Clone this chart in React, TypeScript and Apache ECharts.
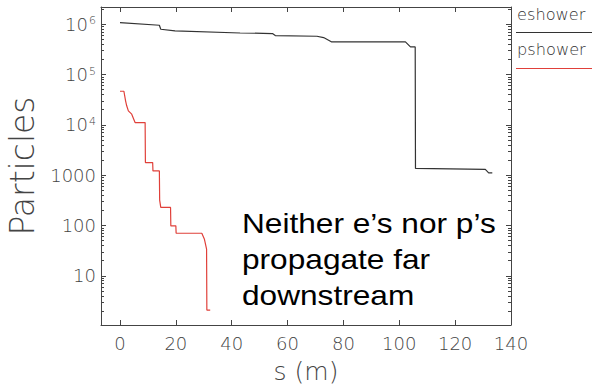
import React, { useEffect, useRef } from "react";
import * as echarts from "echarts";

// Shower particle counts along the beamline (s in metres)
const eShowerS = [0, 14.1, 14.6, 19.7, 43, 54.6, 55.6, 70.5, 72.9, 74.7, 75.8, 89.6, 102.2, 104, 105.7, 105.8, 130.8, 132, 133.3];
const eShowerN = [1.08e6, 9.55e5, 7.95e5, 7.36e5, 6.7e5, 6.53e5, 5.96e5, 5.77e5, 5.43e5, 4.81e5, 4.45e5, 4.45e5, 4.45e5, 3.54e5, 3.54e5, 1360, 1300, 1110, 1110];

const pShowerS = [0, 1.4, 2.0, 2.4, 3.0, 4.2, 5.4, 9.0, 9.1, 11.7, 11.8, 14.1, 14.2, 14.6, 18.1, 18.2, 20.0, 20.1, 29.3, 30.2, 31.0, 31.1, 32.3];
const pShowerN = [46500, 46500, 30000, 23900, 19000, 16300, 11100, 11100, 1780, 1780, 1215, 1215, 318, 228, 228, 98, 98, 70, 70, 54, 34, 2.08, 2.08];

const xTickValues = [0, 20, 40, 60, 80, 100, 120, 140];

const seriesNames = ["eshower", "pshower"];
const seriesColors = ["#333333", "#e0403a"];

const annotationLines = ["Neither e\u2019s nor p\u2019s", "propagate far", "downstream"];

const axisFont = "DejaVu Sans";
const axisColor = "#444";

function pairs(xs: number[], ys: number[]) {
  return xs.map((x, i) => [x, ys[i]]);
}

function logLabel(v: number): string {
  const e = Math.log10(v);
  const k = Math.round(e);
  if (Math.abs(e - k) > 1e-6 || k < 1) return "";
  if (k <= 3) return "{b|" + Math.pow(10, k) + "}";
  return "{b|10}{s|" + k + "}";
}

export default function App() {
  const ref = useRef<HTMLDivElement>(null);

  useEffect(() => {
    if (!ref.current) return;
    const chart = echarts.init(ref.current, null, { renderer: "svg" });

    const frameLine = { show: true, onZero: false, lineStyle: { color: axisColor, width: 1 } };
    const xCommon = {
      type: "value" as const,
      min: -6.8,
      max: 140,
      splitLine: { show: false },
      axisLine: frameLine,
      axisTick: { show: true, inside: true, length: 5, customValues: xTickValues, lineStyle: { color: axisColor } },
    };
    const yCommon = {
      type: "log" as const,
      logBase: 10,
      min: 1.05,
      max: 2.2e6,
      splitLine: { show: false },
      axisLine: frameLine,
      axisTick: { show: true, inside: true, length: 5, lineStyle: { color: axisColor } },
      minorTick: { show: true, splitNumber: 9, length: 3, lineStyle: { color: axisColor } },
    };

    chart.setOption({
      animation: false,
      backgroundColor: "#ffffff",
      grid: { left: 101, right: 81, top: 7, bottom: 63, containLabel: false, outerBoundsMode: "none" },
      xAxis: [
        {
          ...xCommon,
          position: "bottom",
          name: "s (m)",
          nameLocation: "middle",
          nameGap: 34,
          nameTextStyle: { fontFamily: axisFont, fontWeight: 200, fontSize: 25, color: axisColor },
          axisLabel: {
            customValues: xTickValues,
            margin: 9,
            fontFamily: axisFont,
            fontWeight: 200,
            fontSize: 18,
            color: axisColor,
          },
        },
        {
          ...xCommon,
          position: "top",
          axisLabel: { show: false },
        },
      ],
      yAxis: [
        {
          ...yCommon,
          position: "left",
          name: "Particles",
          nameLocation: "middle",
          nameRotate: 90,
          nameGap: 51,
          nameTextStyle: { fontFamily: axisFont, fontWeight: 200, fontSize: 33, color: axisColor },
          axisLabel: {
            margin: 5,
            formatter: logLabel,
            rich: {
              b: { fontFamily: axisFont, fontWeight: 200, fontSize: 18, color: axisColor, lineHeight: 18 },
              s: { fontFamily: axisFont, fontWeight: 200, fontSize: 11, color: axisColor, verticalAlign: "top", padding: [0, 0, 0, 1] },
            },
          },
        },
        {
          ...yCommon,
          position: "right",
          axisLabel: { show: false },
        },
      ],
      series: [
        {
          name: seriesNames[0],
          type: "line",
          xAxisIndex: 0,
          yAxisIndex: 0,
          showSymbol: false,
          data: pairs(eShowerS, eShowerN),
          lineStyle: { color: seriesColors[0], width: 1.2 },
          itemStyle: { color: seriesColors[0] },
        },
        {
          name: seriesNames[1],
          type: "line",
          xAxisIndex: 0,
          yAxisIndex: 0,
          showSymbol: false,
          data: pairs(pShowerS, pShowerN),
          lineStyle: { color: seriesColors[1], width: 1.2 },
          itemStyle: { color: seriesColors[1] },
        },
      ],
      graphic: [
        {
          type: "text",
          x: 517,
          y: 8,
          scaleX: 1.08,
          style: { text: seriesNames[0], fontFamily: axisFont, fontWeight: 300, fontSize: 15, fill: "#333" },
        },
        {
          type: "line",
          shape: { x1: 516, y1: 32.5, x2: 592, y2: 32.5 },
          style: { stroke: seriesColors[0], lineWidth: 1 },
        },
        {
          type: "text",
          x: 517,
          y: 43,
          scaleX: 1.08,
          style: { text: seriesNames[1], fontFamily: axisFont, fontWeight: 300, fontSize: 15, fill: "#333" },
        },
        {
          type: "line",
          shape: { x1: 516, y1: 68.5, x2: 592, y2: 68.5 },
          style: { stroke: seriesColors[1], lineWidth: 1 },
        },
        {
          type: "text",
          x: 242,
          y: 205,
          scaleX: 1.13,
          style: {
            text: annotationLines.join("\n"),
            fontFamily: "Liberation Sans",
            fontSize: 28,
            lineHeight: 36,
            fill: "#000",
          },
        },
      ],
    });

    return () => chart.dispose();
  }, []);

  return <div ref={ref} style={{ position: "fixed", left: 0, top: 0, width: 592, height: 388 }} />;
}
